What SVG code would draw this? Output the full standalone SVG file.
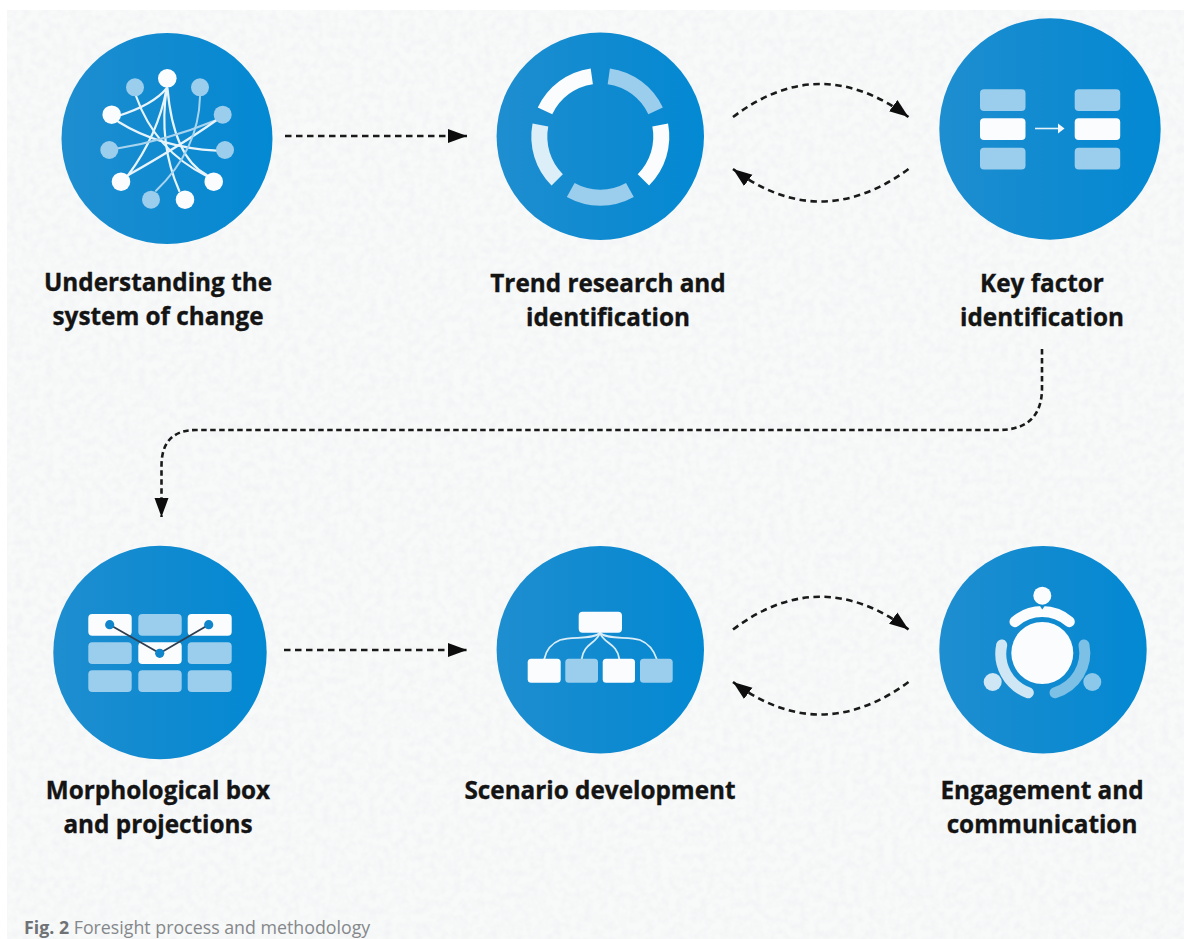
<svg xmlns="http://www.w3.org/2000/svg" width="1184" height="939" viewBox="0 0 1184 939">
<style>
.disc{fill:url(#blue)}
.w{fill:#fbfcfd}
.l{fill:#9bcdec}
.wl{fill:none;stroke:#e8f4fb;stroke-width:2.2;stroke-linecap:round}
.ll{fill:none;stroke:#a8d4ef;stroke-width:2;stroke-linecap:round}
.seg{fill:none;stroke-width:16}
.tie{fill:none;stroke:#d9edf8;stroke-width:1.8;stroke-linecap:round}
.dash{fill:none;stroke:#1a1a1a;stroke-width:2.6;stroke-dasharray:6.5 4.5;marker-end:url(#head)}
.tight{stroke-dasharray:5.5 3.5}
.lab{font-family:"Open Sans","Liberation Sans",sans-serif;font-weight:700;font-size:24.3px;fill:#141414;stroke:#141414;stroke-width:0.35;text-anchor:middle}
.cap{font-family:"Open Sans","Liberation Sans",sans-serif;font-size:17.8px;fill:#85888b}
</style>
<defs>
<linearGradient id="blue" x1="0" y1="0" x2="1" y2="0">
<stop offset="0" stop-color="#1e8ed0"/><stop offset="0.55" stop-color="#0f8ad0"/><stop offset="1" stop-color="#0389d3"/>
</linearGradient>
<marker id="head" markerUnits="userSpaceOnUse" markerWidth="20" markerHeight="15" viewBox="0 0 20 15" refX="19" refY="7.5" orient="auto">
<path d="M0,0.5 L19,7.5 L0,14.5 Z" fill="#0d0d0d"/>
</marker>
<filter id="paper" x="0" y="0" width="100%" height="100%">
<feTurbulence type="fractalNoise" baseFrequency="0.13" numOctaves="2" seed="4" result="n"/>
<feColorMatrix in="n" type="matrix" values="0 0 0 0 0.89  0 0 0 0 0.9  0 0 0 0 0.91  2.4 0 0 0 -0.95"/>
<feComposite operator="in" in2="SourceGraphic" result="t"/>
<feMerge><feMergeNode in="SourceGraphic"/><feMergeNode in="t"/></feMerge>
</filter>
</defs>
<rect width="1184" height="939" fill="#ffffff"/>
<rect id="paper-bg" x="7" y="10" width="1177" height="929" fill="#f8f9f9" filter="url(#paper)"/>

<g id="connectors">
<path class="dash" d="M285,136 H467"/>
<path class="dash" d="M733,117 Q820,51 908.5,117"/>
<path class="dash" d="M908.5,169 Q820,234 733,169"/>
<path class="dash tight" d="M1042,349 V388 Q1042,430 998,430 H196 Q161.5,430 161.5,466 V517"/>
<path class="dash" d="M284,650 H467"/>
<path class="dash" d="M733,629.5 Q820,564 908.5,629.5"/>
<path class="dash" d="M908.5,682 Q820,747 733,682"/>
</g>

<g id="node-system-of-change">
<circle class="disc" cx="167" cy="138.5" r="105.5"/>
<path class="wl" d="M166.7,88.3 Q153,105 118,116"/>
<path class="wl" d="M166.7,88.3 Q158,135 128.3,175"/>
<path class="wl" d="M166.7,88.3 Q158.3,143.3 179.3,191"/>
<path class="wl" d="M167.5,88.3 Q173.3,156.7 206.7,175"/>
<path class="wl" d="M136,96 Q155.3,150.7 206.7,176"/>
<path class="wl" d="M118.3,121.7 Q159.3,147.3 216.7,150.7"/>
<path class="ll" d="M118.3,148.3 Q166,140.7 216.7,120"/>
<path class="wl" d="M128.3,175 Q180,145.9 216.7,120"/>
<path class="ll" d="M200,96.7 Q198.7,149.7 156,190.7"/>
<g class="l"><circle cx="135" cy="87.3" r="9"/><circle cx="200" cy="87.3" r="9"/><circle cx="222.7" cy="114.7" r="9"/><circle cx="109.3" cy="150" r="9"/><circle cx="225" cy="150" r="9"/><circle cx="151" cy="199.7" r="9"/></g>
<g class="w"><circle cx="167.3" cy="78.3" r="9.3"/><circle cx="111.7" cy="114.7" r="9.3"/><circle cx="121" cy="181.7" r="9.3"/><circle cx="213.7" cy="181.7" r="9.3"/><circle cx="185" cy="199.7" r="9.3"/></g>
<text class="lab" x="158" y="291">Understanding the</text>
<text class="lab" x="158" y="325">system of change</text>
</g>

<g id="node-trend-research">
<circle class="disc" cx="600.3" cy="136.3" r="103.7"/>
<path class="seg" stroke="#fbfcfd" d="M591.8,76.3 A61,61 0 0 0 545,110.9"/>
<path class="seg" stroke="#9bcdec" d="M608.8,76.3 A61,61 0 0 1 655.6,110.9"/>
<path class="seg" stroke="#fbfcfd" d="M660.2,125.1 A61,61 0 0 1 643.4,179.8"/>
<path class="seg" stroke="#9bcdec" d="M629.9,190 A61,61 0 0 1 570.7,190"/>
<path class="seg" stroke="#dceef8" d="M540.4,125.1 A61,61 0 0 0 557.2,179.8"/>
<text class="lab" x="608" y="292">Trend research and</text>
<text class="lab" x="608" y="326">identification</text>
</g>

<g id="node-key-factor">
<circle class="disc" cx="1050" cy="129" r="110.7"/>
<rect class="l" x="980" y="89.3" width="45.5" height="21.7" rx="4"/>
<rect class="w" x="980" y="118.3" width="45.5" height="21.7" rx="4"/>
<rect class="l" x="980" y="147.7" width="45.5" height="21.7" rx="4"/>
<rect class="l" x="1074.7" y="89.3" width="45.5" height="21.7" rx="4"/>
<rect class="w" x="1074.7" y="118.3" width="45.5" height="21.7" rx="4"/>
<rect class="l" x="1074.7" y="147.7" width="45.5" height="21.7" rx="4"/>
<path d="M1035,128.5 H1060" fill="none" stroke="#e4f2fa" stroke-width="1.6"/>
<path d="M1058,123.5 L1064.5,128.5 L1058,133.5 Z" fill="#f2f8fc"/>
<text class="lab" x="1042" y="292">Key factor</text>
<text class="lab" x="1042" y="326">identification</text>
</g>

<g id="node-morphological-box">
<circle class="disc" cx="160" cy="652.5" r="106.7"/>
<rect class="w" x="88.3" y="614" width="43.4" height="21.7" rx="4"/>
<rect class="l" x="138.3" y="614" width="43.4" height="21.7" rx="4"/>
<rect class="w" x="187.7" y="614" width="44" height="21.7" rx="4"/>
<rect class="l" x="88.3" y="642.3" width="43.4" height="21.7" rx="4"/>
<rect class="w" x="138.3" y="642.3" width="43.4" height="21.7" rx="4"/>
<rect class="l" x="187.7" y="642.3" width="44" height="21.7" rx="4"/>
<rect class="l" x="88.3" y="670.3" width="43.4" height="21.7" rx="4"/>
<rect class="l" x="138.3" y="670.3" width="43.4" height="21.7" rx="4"/>
<rect class="l" x="187.7" y="670.3" width="44" height="21.7" rx="4"/>
<path d="M109.7,624.7 L159.7,653.3 L208.7,624.7" fill="none" stroke="#2f3f52" stroke-width="1.8"/>
<g fill="#0f86cc"><circle cx="109.7" cy="624.7" r="4.6"/><circle cx="159.7" cy="653.3" r="4.6"/><circle cx="208.7" cy="624.7" r="4.6"/></g>
<text class="lab" x="158" y="799">Morphological box</text>
<text class="lab" x="158" y="833">and projections</text>
</g>

<g id="node-scenario-development">
<circle class="disc" cx="600.3" cy="649.7" r="103.7"/>
<path class="tie" d="M600,633 C592,640 572,636 560,640 C550,644 546,651 544.3,659"/>
<path class="tie" d="M600,633 C596,644 584,643 581.7,659"/>
<path class="tie" d="M600,633 C604,644 617,643 619.3,659"/>
<path class="tie" d="M600,633 C608,640 628,636 640,640 C650,644 654,651 656.7,659"/>
<rect class="w" x="578.7" y="611.7" width="43.3" height="21" rx="4"/>
<rect class="w" x="527.7" y="658.7" width="33" height="24" rx="3.5"/>
<rect class="l" x="565.3" y="658.7" width="32.7" height="24" rx="3.5"/>
<rect class="w" x="602.7" y="658.7" width="32.3" height="24" rx="3.5"/>
<rect class="l" x="640" y="658.7" width="32.7" height="24" rx="3.5"/>
<text class="lab" x="600" y="799">Scenario development</text>
</g>

<g id="node-engagement">
<circle class="disc" cx="1043" cy="649.7" r="103.7"/>
<circle class="w" cx="1042.3" cy="653" r="31"/>
<circle class="w" cx="1042.3" cy="595.7" r="9"/>
<path d="M1015,621.7 A41.5,41.5 0 0 1 1069.3,621.7" fill="none" stroke="#fbfcfd" stroke-width="11" stroke-linecap="round"/>
<path d="M1039.6,605.5 H1045 L1042.3,609.5 Z" fill="#0f8ad0"/>
<path d="M1001.7,645 A41.5,41.5 0 0 0 1028.3,692.7" fill="none" stroke="#cfe6f5" stroke-width="11" stroke-linecap="round"/>
<path d="M1084,645 A41.5,41.5 0 0 1 1055,692.7" fill="none" stroke="#7cc0e6" stroke-width="11" stroke-linecap="round"/>
<circle cx="992.7" cy="682" r="9" fill="#cfe6f5"/>
<circle cx="1092.3" cy="682" r="9" fill="#8cc8ea"/>
<text class="lab" x="1042" y="799">Engagement and</text>
<text class="lab" x="1042" y="833">communication</text>
</g>

<text class="cap" x="24" y="934"><tspan font-weight="700" fill="#6f7275">Fig. 2</tspan> Foresight process and methodology</text>
</svg>
